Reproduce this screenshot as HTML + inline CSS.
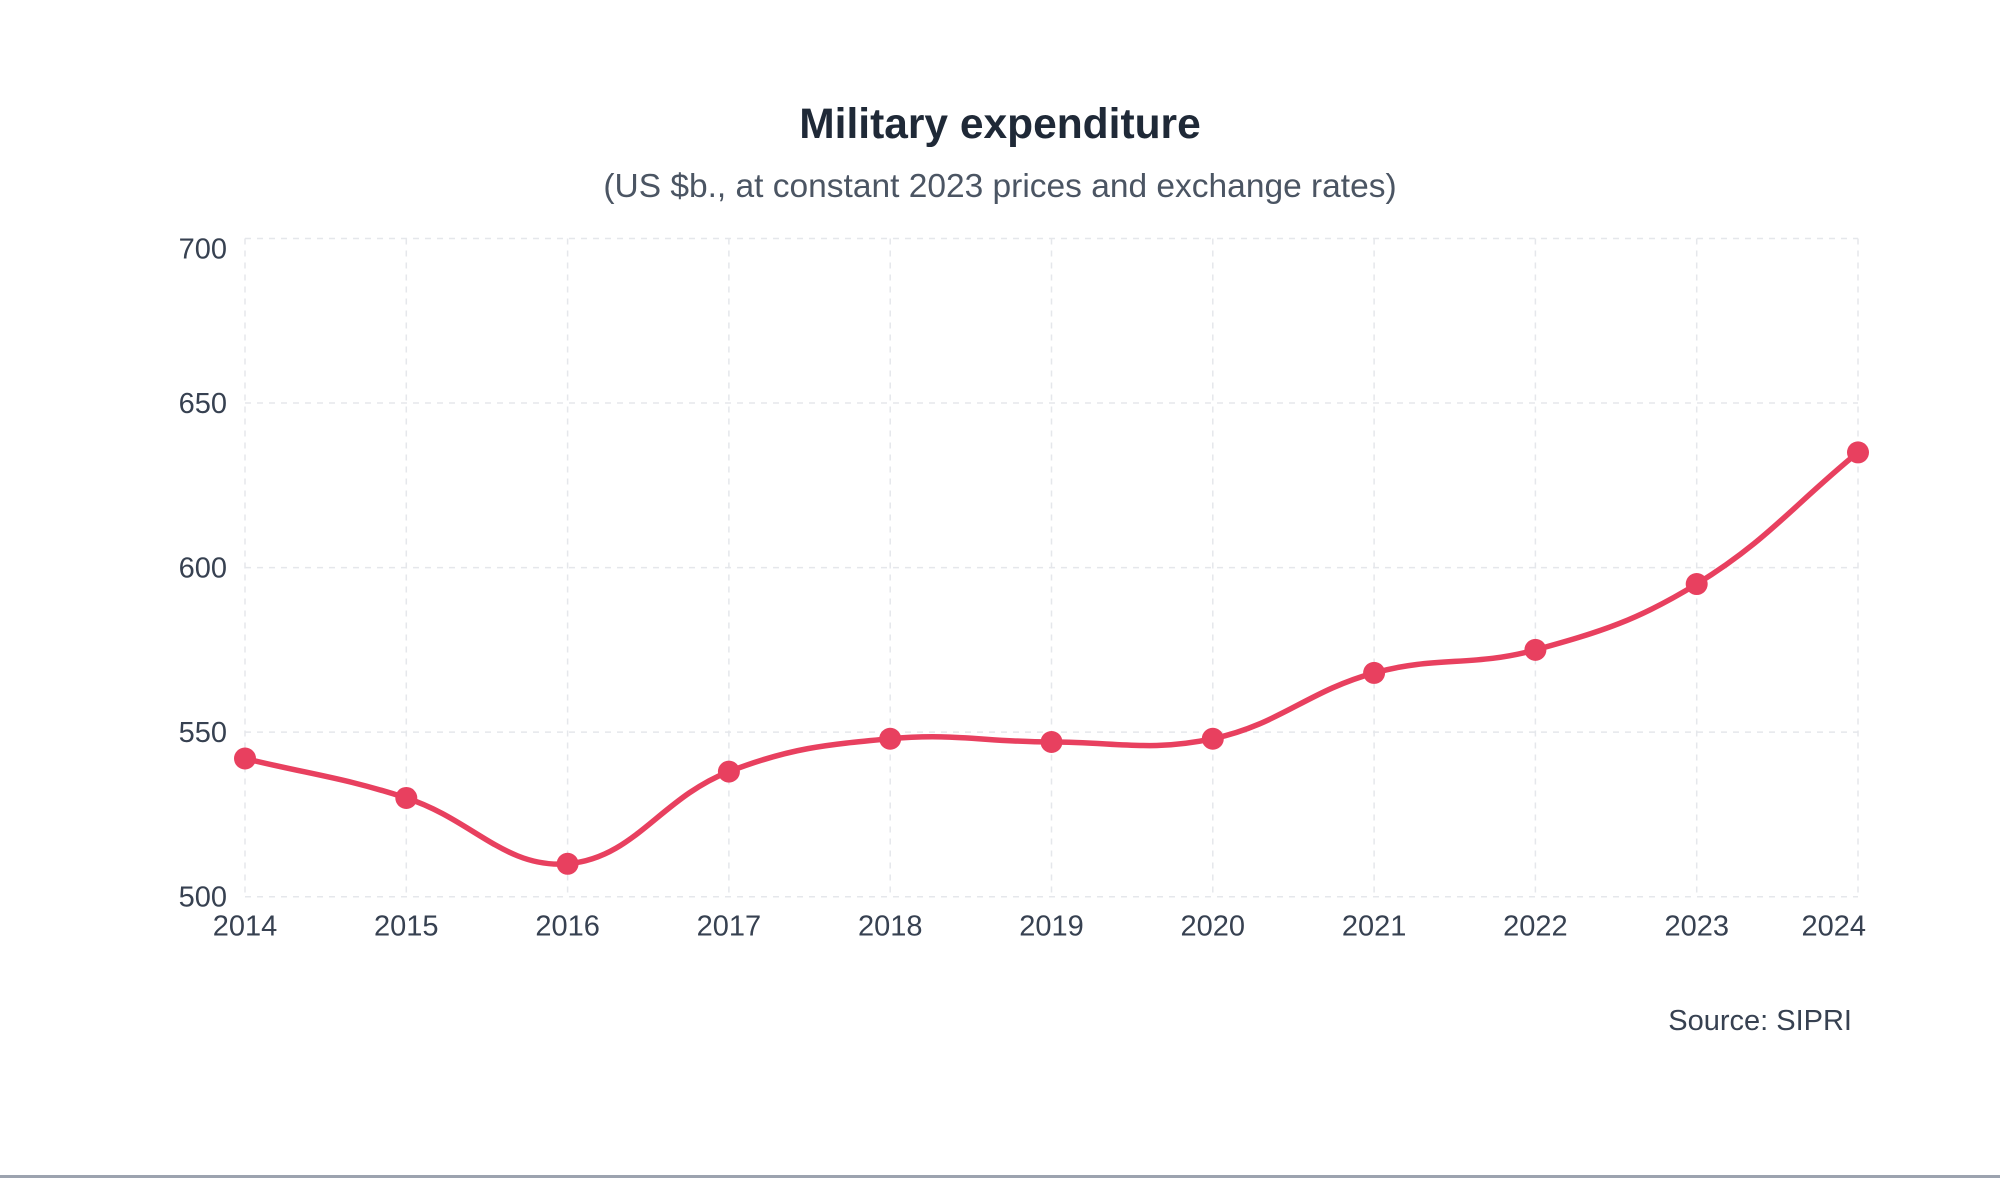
<!DOCTYPE html>
<html><head><meta charset="utf-8"><style>
html,body{margin:0;padding:0;background:#fff;width:2000px;height:1178px;overflow:hidden}
svg{display:block}
</style></head><body>
<svg id="chart" width="2000" height="1178" font-family="Liberation Sans, sans-serif">
<text x="1000" y="138" text-anchor="middle" font-size="42.5" font-weight="bold" fill="#1f2937">Military expenditure</text>
<text x="1000" y="197" text-anchor="middle" font-size="33.5" fill="#4b5563">(US $b., at constant 2023 prices and exchange rates)</text>
<g id="grid"></g><g id="axes"></g><g id="series"></g>
<text x="1852" y="1030" text-anchor="end" font-size="29" fill="#374151">Source: SIPRI</text>
<rect x="0" y="1175" width="2000" height="3" fill="#9ca3af"/>
</svg>
<script>
const years = ["2014","2015","2016","2017","2018","2019","2020","2021","2022","2023","2024"];
const spending = [542,530,510,538,548,547,548,568,575,595,635];
const yTicks = [500,550,600,650,700];

const NS="http://www.w3.org/2000/svg";
const X0=245,X1=1858,Y0=896.7,Y1=238.5,YMIN=500,YMAX=700;
const xs=i=>X0+(X1-X0)*i/(years.length-1);
const ys=v=>Y0-(v-YMIN)/(YMAX-YMIN)*(Y0-Y1);
function mk(t,a,p){const e=document.createElementNS(NS,t);for(const k in a)e.setAttribute(k,a[k]);p.appendChild(e);return e;}
const grid=document.getElementById('grid'),axes=document.getElementById('axes'),ser=document.getElementById('series');
yTicks.forEach(v=>{
 const l=mk('line',{x1:X0,x2:X1,y1:ys(v),y2:ys(v),stroke:'#e5e7eb','stroke-width':1.5,'stroke-dasharray':'6 6'},grid);
 
 
 const t=mk('text',{x:X0-18,y:ys(v)+10+(v==YMAX?10:0),'text-anchor':'end','font-size':29,fill:'#374151'},axes);
 t.textContent=v;
 
 
});
years.forEach((y,i)=>{
 const l=mk('line',{x1:xs(i),x2:xs(i),y1:Y1,y2:Y0,stroke:'#e5e7eb','stroke-width':1.5,'stroke-dasharray':'6 6'},grid);
 
 
 const t=mk('text',{x:xs(i),y:Y0+39,'text-anchor':i==years.length-1?'end':'middle','font-size':29,fill:'#374151'},axes);
 if(i==years.length-1)t.setAttribute('x',xs(i)+8);
 t.textContent=y;
 
 
});
const pts=spending.map((v,i)=>[xs(i),ys(v)]);
// Chart.js-style cardinal spline, tension 0.4
const T=0.4,n=pts.length,cpPrev=[],cpNext=[];
const dist=(a,b)=>Math.hypot(a[0]-b[0],a[1]-b[1]);
for(let i=0;i<n;i++){
 const p0=pts[Math.max(0,i-1)],p1=pts[i],p2=pts[Math.min(n-1,i+1)];
 const d01=dist(p0,p1),d12=dist(p1,p2),tot=d01+d12||1;
 const fa=T*d01/tot,fb=T*d12/tot;
 cpPrev[i]=[p1[0]-fa*(p2[0]-p0[0]),p1[1]-fa*(p2[1]-p0[1])];
 cpNext[i]=[p1[0]+fb*(p2[0]-p0[0]),p1[1]+fb*(p2[1]-p0[1])];
}
let d=`M${pts[0][0]},${pts[0][1]}`;
for(let i=0;i<n-1;i++){
 d+=` C${cpNext[i][0]},${cpNext[i][1]} ${cpPrev[i+1][0]},${cpPrev[i+1][1]} ${pts[i+1][0]},${pts[i+1][1]}`;
}
const path=mk('path',{d:d,fill:'none',stroke:'#e8405f','stroke-width':5.5,'stroke-linecap':'round'},ser);


pts.forEach((p,i)=>{
 const c=mk('circle',{cx:p[0],cy:p[1],r:11,fill:'#e8405f'},ser);
 
 
});
</script>
</body></html>
